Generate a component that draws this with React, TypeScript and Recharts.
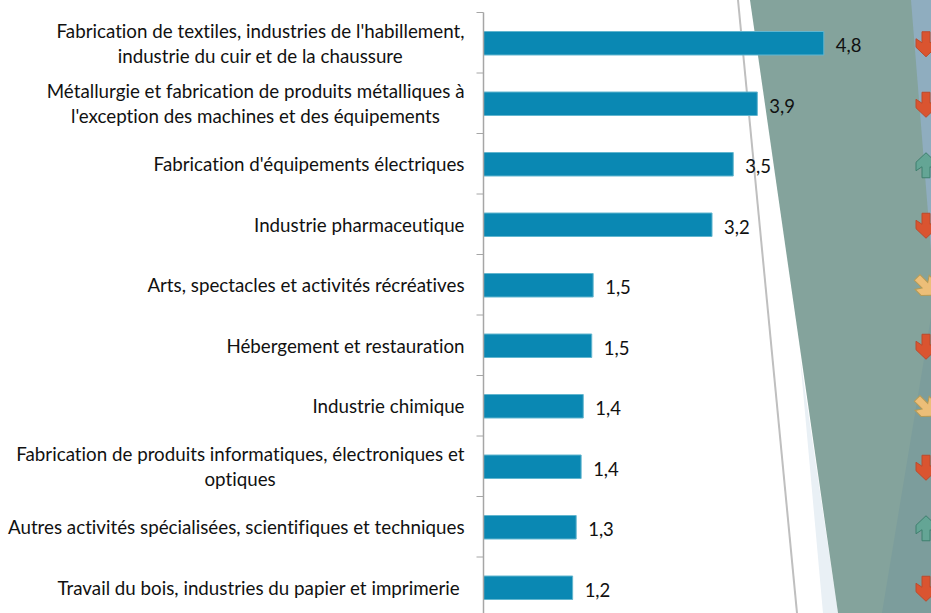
import { Bar, BarChart, LabelList, XAxis, YAxis } from "recharts";

const categories = [
  "Fabrication de textiles, industries de l'habillement,\nindustrie du cuir et de la chaussure",
  "Métallurgie et fabrication de produits métalliques à\nl'exception des machines et des équipements",
  "Fabrication d'équipements électriques",
  "Industrie pharmaceutique",
  "Arts, spectacles et activités récréatives",
  "Hébergement et restauration",
  "Industrie chimique",
  "Fabrication de produits informatiques, électroniques et\noptiques",
  "Autres activités spécialisées, scientifiques et techniques",
  "Travail du bois, industries du papier et imprimerie\u00a0",
];
const values = [4.81, 3.87, 3.53, 3.23, 1.55, 1.53, 1.41, 1.38, 1.31, 1.26];
const valueLabels = ["4,8", "3,9", "3,5", "3,2", "1,5", "1,5", "1,4", "1,4", "1,3", "1,2"];
const trends = ["down", "down", "up", "down", "flat", "down", "flat", "down", "up", "down"];

const data = categories.map((name, i) => ({ name, value: values[i], label: valueLabels[i], trend: trends[i] }));

const FONT = "Lato, sans-serif";
const LABEL_SIZE = 18.75;
const BAND = 60.5;

const arrowStyles: Record<string, { fill: string; stroke: string; rotate: number }> = {
  down: { fill: "#DA5430", stroke: "#BC4A2C", rotate: 0 },
  up: { fill: "#64A595", stroke: "#3F7F6E", rotate: 180 },
  flat: { fill: "#EDBE78", stroke: "#B59A55", rotate: -45 },
};

// second lines are centred under the first one, so we need its width
const measure = document.createElement("canvas").getContext("2d")!;
measure.font = `${LABEL_SIZE}px ${FONT}`;

function CategoryTick({ x, y, payload }: any) {
  const lines = String(payload.value).split("\n");
  const startY = y + 1.5 - ((lines.length - 1) * 25) / 2;
  const right = x - 11;
  const center = right - measure.measureText(lines[0]).width / 2;
  return (
    <g>
      <line x1={x + 1} x2={x + 8} y1={y - BAND / 2} y2={y - BAND / 2} stroke="#A6A6A6" strokeWidth={1} />
      <g fontFamily={FONT} fontSize={LABEL_SIZE} fill="#111" style={{ fontVariantLigatures: "none" }}>
        {lines.map((line, i) => (
          <text key={i} x={i === 0 ? right : center} y={startY + i * 25} dy={6} textAnchor={i === 0 ? "end" : "middle"}>
            {line}
          </text>
        ))}
      </g>
    </g>
  );
}

function TrendTick({ y, index }: any) {
  const style = arrowStyles[trends[index]];
  return (
    <g transform={`translate(926 ${y + 1.5}) rotate(${style.rotate})`}>
      <path
        d="M-4,-12.5 L4,-12.5 L4,-1.5 L10,-5.5 L10,3 L0,12.5 L-10,3 L-10,-5.5 L-4,-1.5 Z"
        fill={style.fill}
        stroke={style.stroke}
        strokeWidth={1}
      />
    </g>
  );
}

export default function App() {
  return (
    <div style={{ position: "absolute", left: 0, top: 0, width: 931, height: 613, overflow: "hidden", background: "#fff" }}>
      {/* decorative slide background behind the chart */}
      <svg width={931} height={613} style={{ position: "absolute", left: 0, top: 0 }}>
        <polygon points="800,357 838,613 823,613" fill="#E9F0F5" />
        <polygon points="750,0 931,0 931,613 838,613" fill="#84A39C" />
        <polygon points="911,0 931,0 931,250" fill="#8FADBF" />
        <polygon points="931,317 931,613 882,613" fill="#7C9D9C" />
        <line x1={738} y1={0} x2={797} y2={613} stroke="#BFBFBF" strokeWidth={2} />
      </svg>
      <div style={{ position: "absolute", left: 0, top: 0 }}>
        <BarChart
          width={931}
          height={640}
          data={data}
          layout="vertical"
          barSize={23.5}
          margin={{ top: 12.5, right: 0, bottom: 22.5, left: 0 }}
        >
          <XAxis type="number" domain={[0, 6]} hide />
          <YAxis
            yAxisId="main"
            type="category"
            dataKey="name"
            width={483.5}
            interval={0}
            tickLine={false}
            axisLine={{ stroke: "#A6A6A6", strokeWidth: 1.5 }}
            tick={<CategoryTick />}
          />
          <YAxis
            yAxisId="trend"
            orientation="right"
            type="category"
            dataKey="trend"
            allowDuplicatedCategory
            width={23}
            interval={0}
            tickLine={false}
            axisLine={false}
            tick={<TrendTick />}
          />
          <Bar yAxisId="main" dataKey="value" fill="#0A88B3" stroke="#62B6CF" strokeWidth={1} isAnimationActive={false}>
            <LabelList dataKey="label" position="right" offset={12} dy={2.5} fontFamily={FONT} fontSize={18.5} fill="#111" />
          </Bar>
        </BarChart>
      </div>
    </div>
  );
}
